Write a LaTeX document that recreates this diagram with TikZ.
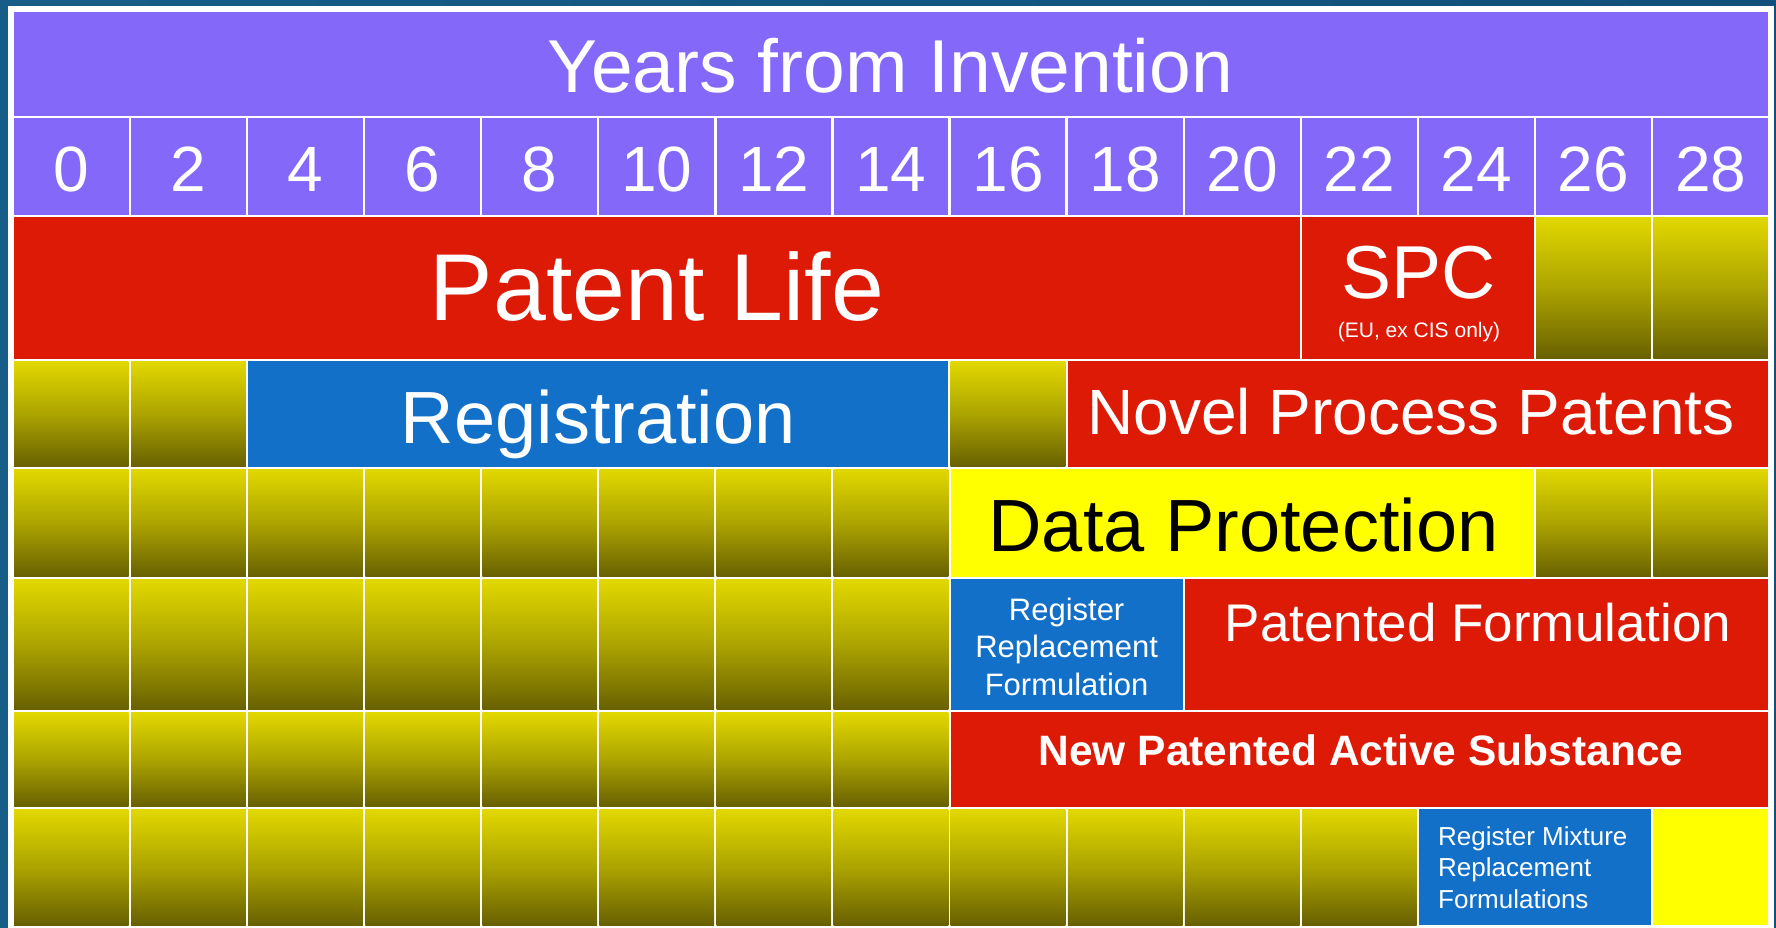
\documentclass[tikz,border=0pt]{standalone}
\usepackage{fontspec}
\setmainfont{Liberation Sans}
\usepackage{tikz}
\usetikzlibrary{positioning}
\definecolor{slideL}{RGB}{22,94,136}
\definecolor{slideR}{RGB}{16,80,122}
\definecolor{hdrpurple}{RGB}{132,104,250}
\definecolor{patred}{RGB}{220,26,6}
\definecolor{regblue}{RGB}{18,112,200}
\definecolor{dpyellow}{RGB}{255,255,0}
\definecolor{olivetop}{RGB}{226,216,0}
\definecolor{olivemid}{RGB}{172,164,0}
\definecolor{olivebot}{RGB}{104,96,0}
\tikzstyle{cell}=[rectangle,inner sep=0pt,outer sep=0pt]
\tikzstyle{hdrcell}=[cell,fill=hdrpurple]
\tikzstyle{redcell}=[cell,fill=patred]
\tikzstyle{bluecell}=[cell,fill=regblue]
\tikzstyle{yelcell}=[cell,fill=dpyellow]
\tikzstyle{emptycell}=[cell,top color=olivetop,bottom color=olivebot,middle color=olivemid]
\tikzstyle{lbl}=[inner sep=0pt,anchor=base,text=white]

\begin{document}
\begin{tikzpicture}[x=1pt,y=-1pt]

	\def\xo{12.8};
	\def\w{117.09};
	\def\g{2.4};
	% row centres / heights
	\def\yA{63.9};  \def\hA{106.2};
	\def\yB{166.5}; \def\hB{99};
	\def\yC{288};   \def\hC{144};
	\def\yD{414};   \def\hD{108};
	\def\yE{523};   \def\hE{110};
	\def\yF{644.5}; \def\hF{133};
	\def\yG{759.5}; \def\hG{97};
	\def\yH{867.1}; \def\hH{118.2};

	\useasboundingbox (0,0) rectangle (1776,927);
	\fill[left color=slideL, right color=slideR] (0,0) rectangle (1776,927);
	\fill[white] (8,6) rectangle (1774,930);

%header
	\node[hdrcell, minimum width={15*\w-\g}, minimum height={\hA-\g}] (head) at ({\xo+7.5*\w}, \yA) {};
	\node[lbl, font=\fontsize{75}{80}\selectfont] (headtxt) at (890.5, 92) {Years from Invention};

%years
	\foreach \i [evaluate=\i as \yr using int(2*\i)] in {0,...,14}
	{
		\node[hdrcell, minimum width={\w-\g}, minimum height={\hB-\g}] (yr\i) at ({\xo+(\i+0.5)*\w}, \yB) {};
		\node[lbl, font=\fontsize{64}{70}\selectfont] (yrtxt\i) at ({\xo+(\i+0.5)*\w}, 191.5) {\yr};
	}

%patent life
	\foreach \a/\n/\name in {0/11/patent, 11/2/spc}
		\node[redcell, minimum width={\n*\w-\g}, minimum height={\hC-\g}] (\name) at ({\xo+(\a+\n/2)*\w}, \yC) {};
	\foreach \a in {13,14}
		\node[emptycell, minimum width={\w-\g}, minimum height={\hC-\g}] (pl\a) at ({\xo+(\a+0.5)*\w}, \yC) {};

%registration
	\foreach \a in {0,1,8}
		\node[emptycell, minimum width={\w-\g}, minimum height={\hD-\g}] (rg\a) at ({\xo+(\a+0.5)*\w}, \yD) {};
	\node[bluecell, minimum width={6*\w-\g}, minimum height={\hD-\g}] (reg) at ({\xo+5*\w}, \yD) {};
	\node[redcell, minimum width={6*\w-\g}, minimum height={\hD-\g}] (novel) at ({\xo+12*\w}, \yD) {};

%data protection
	\foreach \a in {0,...,7,13,14}
		\node[emptycell, minimum width={\w-\g}, minimum height={\hE-\g}] (dp\a) at ({\xo+(\a+0.5)*\w}, \yE) {};
	\node[yelcell, minimum width={5*\w-\g}, minimum height={\hE-\g}] (data) at ({\xo+10.5*\w}, \yE) {};

%formulation
	\foreach \a in {0,...,7}
		\node[emptycell, minimum width={\w-\g}, minimum height={\hF-\g}] (fm\a) at ({\xo+(\a+0.5)*\w}, \yF) {};
	\node[bluecell, minimum width={2*\w-\g}, minimum height={\hF-\g}] (regform) at ({\xo+9*\w}, \yF) {};
	\node[redcell, minimum width={5*\w-\g}, minimum height={\hF-\g}] (patform) at ({\xo+12.5*\w}, \yF) {};

%active substance
	\foreach \a in {0,...,7}
		\node[emptycell, minimum width={\w-\g}, minimum height={\hG-\g}] (as\a) at ({\xo+(\a+0.5)*\w}, \yG) {};
	\node[redcell, minimum width={7*\w-\g}, minimum height={\hG-\g}] (newsub) at ({\xo+11.5*\w}, \yG) {};

%mixtures
	\foreach \a in {0,...,11}
		\node[emptycell, minimum width={\w-\g}, minimum height={\hH-\g}] (mx\a) at ({\xo+(\a+0.5)*\w}, \yH) {};
	\node[bluecell, minimum width={2*\w-\g}, minimum height={\hH-\g}] (regmix) at ({\xo+13*\w}, \yH) {};
	\node[yelcell, minimum width={\w-\g}, minimum height={\hH-\g}] (mx14) at ({\xo+14.5*\w}, \yH) {};

%labels
	\node[lbl, font=\fontsize{95}{100}\selectfont] (patenttxt) at (657, 320) {Patent Life};
	\node[lbl, font=\fontsize{75}{80}\selectfont] (spctxt) at (1419, 298) {SPC};
	\node[lbl, font=\fontsize{21}{24}\selectfont] (spcnote) at (1419, 337) {(EU, ex CIS only)};
	\node[lbl, font=\fontsize{74}{80}\selectfont] (regtxt) at (598.3, 443) {Registration};
	\node[lbl, font=\fontsize{64}{70}\selectfont] (noveltxt) at (1411, 434) {Novel Process Patents};
	\node[lbl, font=\fontsize{74}{80}\selectfont, text=black] (datatxt) at (1243.5, 551.5) {Data Protection};
	\node[inner sep=0pt, text=white, align=center, font=\fontsize{31}{37.5}\selectfont] (regformtxt) at (1066.6, 646.5) {Register\\Replacement\\Formulation};
	\node[lbl, font=\fontsize{53}{58}\selectfont] (patformtxt) at (1478, 641) {Patented Formulation};
	\node[lbl, font=\bfseries\fontsize{42.5}{48}\selectfont] (newsubtxt) at (1361, 765) {New Patented Active Substance};
	\node[inner sep=0pt, text=white, align=left, anchor=west, font=\fontsize{26}{31.7}\selectfont] (regmixtxt) at (1438, 867.4) {Register Mixture\\Replacement\\Formulations};

\end{tikzpicture}
\end{document}
